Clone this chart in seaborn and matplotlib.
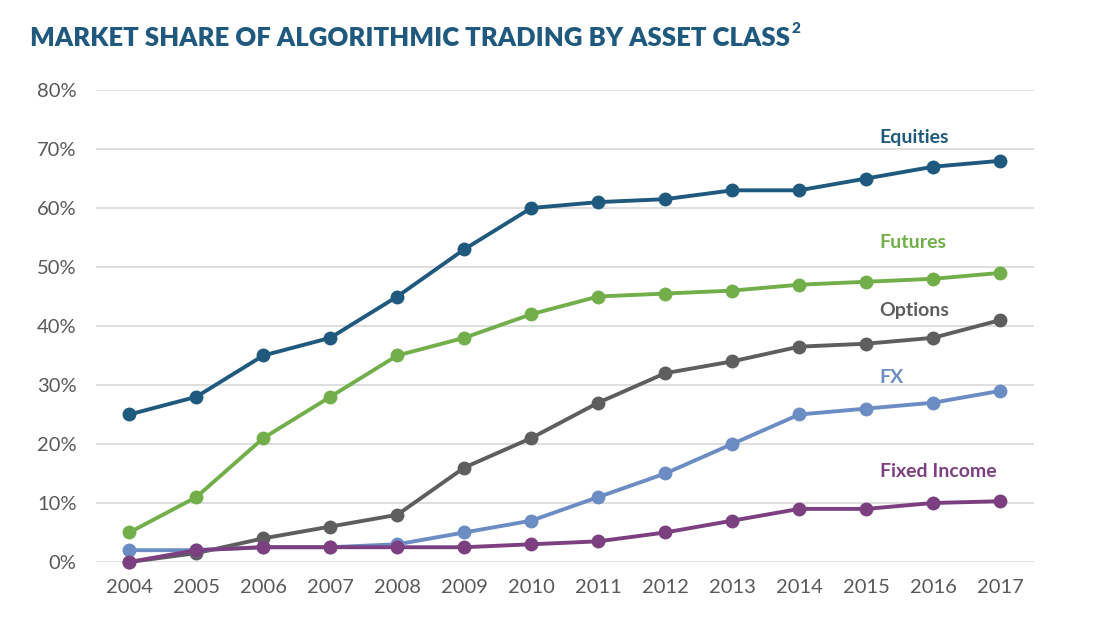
import pandas as pd
import matplotlib
matplotlib.use('Agg')
import matplotlib.pyplot as plt
import seaborn as sns
from matplotlib.ticker import PercentFormatter

years = list(range(2004, 2018))
equities = [25, 28, 35, 38, 45, 53, 60, 61, 61.5, 63, 63, 65, 67, 68]
futures = [5, 11, 21, 28, 35, 38, 42, 45, 45.5, 46, 47, 47.5, 48, 49]
options = [0, 1.5, 4, 6, 8, 16, 21, 27, 32, 34, 36.5, 37, 38, 41]
fx = [2, 2, 2.5, 2.5, 3, 5, 7, 11, 15, 20, 25, 26, 27, 29]
fixed_income = [0, 2, 2.5, 2.5, 2.5, 2.5, 3, 3.5, 5, 7, 9, 9, 10, 10.3]

series = {
    "Equities": equities,
    "Futures": futures,
    "Options": options,
    "FX": fx,
    "Fixed Income": fixed_income,
}
colors = {
    "Equities": "#1F5A7E",
    "Futures": "#72AF4B",
    "Options": "#5E5E5E",
    "FX": "#6C8CC4",
    "Fixed Income": "#7C3F80",
}
# label position (year, value) for the inline names
label_pos = {
    "Equities": (2015.2, 71.9),
    "Futures": (2015.2, 54.1),
    "Options": (2015.2, 42.7),
    "FX": (2015.2, 31.2),
    "Fixed Income": (2015.2, 15.4),
}

df = pd.concat(
    [pd.DataFrame({"year": years, "share": vals, "asset": name}) for name, vals in series.items()],
    ignore_index=True,
)

sns.set_theme(style="white")
plt.rcParams['font.family'] = ['Lato', 'DejaVu Sans']

fig = plt.figure(figsize=(11.02, 6.34), dpi=100)
ax = fig.add_axes([0.087, 0.1136, 0.851, 0.7444])

# series order as in the source, later ones on top
for i, name in enumerate(series):
    sub = df[df["asset"] == name]
    sns.lineplot(data=sub, x="year", y="share", ax=ax, color=colors[name],
                 linewidth=2.8, marker="o", markersize=10, markeredgewidth=0,
                 clip_on=False, zorder=3 + i)

for name, (x, y) in label_pos.items():
    ax.text(x, y, name, color=colors[name], fontsize=14, fontweight="bold",
            ha="left", va="center")

ax.set_xlim(2003.5, 2017.5)
ax.set_ylim(0, 80)
ax.set_yticks(range(0, 81, 10))
ax.yaxis.set_major_formatter(PercentFormatter(decimals=0))
ax.set_xticks(years)
ax.grid(axis="y", color="#D9D9D9", linewidth=1.2, zorder=0)
ax.set_axisbelow(True)
for s in ax.spines.values():
    s.set_visible(False)
ax.tick_params(axis="both", colors="#595959", labelsize=14.5, length=0)
ax.tick_params(axis="y", pad=14)
ax.tick_params(axis="x", pad=12)
ax.set_xlabel("")
ax.set_ylabel("")

title = fig.text(0.027, 0.94, "MARKET SHARE OF ALGORITHMIC TRADING BY ASSET CLASS",
                 color="#1F5A7E", fontsize=18.5, fontweight="heavy", ha="left", va="center")
fig.canvas.draw()
bb = title.get_window_extent().transformed(fig.transFigure.inverted())
fig.text(bb.x1 + 0.002, 0.955, "2", color="#1F5A7E", fontsize=11,
         fontweight="heavy", ha="left", va="center")

fig.savefig("out.png", dpi=100, facecolor="white")
